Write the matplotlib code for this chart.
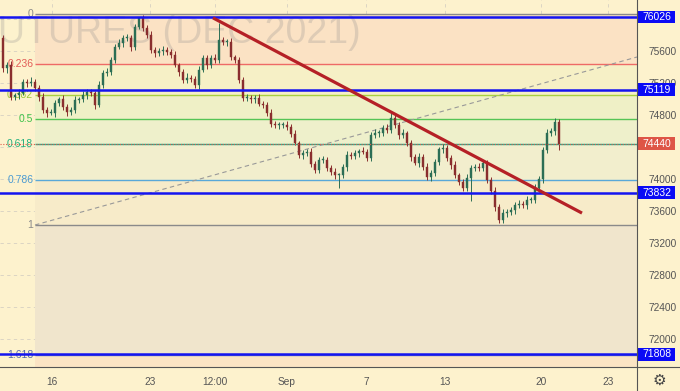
import matplotlib
matplotlib.use("Agg")
import matplotlib.pyplot as plt
import matplotlib.transforms as mtransforms
from matplotlib.patches import Rectangle
from matplotlib.lines import Line2D


# candle closes, one per bar (rub) left to right
closes = [
    75390, 75425, 75025, 75050, 75075, 75215, 75200, 75215, 75140, 75025,
    74865, 74825, 74825, 74950, 75000, 74900, 74840, 74865, 74990, 75000,
    75050, 75090, 75075, 74925, 75175, 75325, 75340, 75490, 75650, 75700,
    75765, 75765, 75650, 75900, 76015, 75890, 75800, 75615, 75575, 75600,
    75615, 75590, 75550, 75425, 75340, 75240, 75265, 75250, 75175, 75365,
    75515, 75425, 75515, 75490, 75740, 75715, 75715, 75525, 75490, 75240,
    75015, 75015, 75000, 75015, 74940, 74925, 74825, 74690, 74675, 74675,
    74675, 74650, 74565, 74450, 74300, 74325, 74340, 74190, 74115, 74240,
    74240, 74140, 74090, 74050, 74050, 74150, 74300, 74290, 74325, 74350,
    74340, 74265, 74550, 74575, 74575, 74640, 74615, 74765, 74675, 74550,
    74575, 74450, 74275, 74200, 74275, 74150, 74025, 74075, 74215, 74375,
    74390, 74265, 74175, 74050, 73965, 73890, 74015, 74140, 74150, 74140,
    74200, 73990, 73850, 73650, 73490, 73575, 73590, 73615, 73675, 73690,
    73675, 73740, 73740, 73890, 74000, 74365, 74575, 74600, 74715, 74440,
]
first_open = 75765
up_wick = [
    35, 40, 45, 30, 50, 40, 35, 55, 30, 40, 45, 35, 50, 40, 30, 45, 35, 40, 50, 30,
    45, 35, 40, 30, 55, 40, 45, 35, 40, 50, 30, 45, 40, 35, 15, 40, 35, 45, 30, 40,
    50, 35, 40, 45, 30, 40, 55, 35, 40, 45, 30, 40, 35, 50, 210, 40, 35, 45, 30, 40,
    35, 45, 40, 30, 50, 35, 40, 45, 30, 40, 35, 50, 40, 45, 30, 40, 35, 45, 40, 30,
    45, 35, 40, 50, 30, 40, 45, 35, 40, 30, 45, 40, 35, 50, 40, 30, 45, 60, 35, 40,
    45, 30, 40, 35, 50, 40, 45, 35, 40, 30, 45, 40, 35, 50, 30, 40, 45, 35, 40, 45,
    30, 40, 35, 50, 40, 45, 30, 40, 35, 45, 40, 50, 30, 45, 40, 35, 45, 40, 50, 30,
]
dn_wick = [
    50, 65, 40, 35, 45, 30, 50, 40, 35, 45, 40, 50, 30, 45, 35, 40, 50, 35, 45, 40,
    35, 45, 40, 50, 30, 40, 35, 45, 40, 30, 50, 35, 45, 40, 30, 45, 40, 35, 50, 40,
    45, 35, 40, 30, 50, 40, 45, 35, 40, 50, 30, 45, 40, 35, 45, 40, 50, 35, 40, 45,
    40, 35, 50, 45, 30, 40, 35, 45, 40, 50, 35, 40, 45, 30, 40, 50, 35, 45, 40, 35,
    40, 45, 35, 50, 160, 40, 45, 35, 40, 50, 30, 45, 40, 35, 50, 40, 35, 45, 40, 50,
    35, 40, 45, 30, 50, 40, 35, 45, 40, 35, 50, 40, 45, 35, 40, 40, 45, 295, 35, 40,
    45, 35, 40, 50, 40, 35, 45, 40, 50, 35, 40, 45, 35, 40, 50, 45, 35, 40, 45, 75,
]

fib_high = 76064
fib_low = 73426
fib_ratios = [0, 0.236, 0.382, 0.5, 0.618, 0.786, 1, 1.618]
fib_labels = ["0", "0.236", "0.382", "0.5", "0.618", "0.786", "1", "1.618"]
fib_start = 8

levels = [76026, 75119, 73832, 71808]
last_price = 74440

trend_x = [52.5, 144.75]
trend_y = [76015, 73575]
guide_x = [8, 158.5]
guide_y = [73426, 75526]

date_pos = [12.25, 36.75, 53, 71, 90.75, 110.5, 134.5, 151.25]
date_labels = ["16", "23", "12:00", "Sep", "7", "13", "20", "23"]
price_ticks = [72000, 72400, 72800, 73200, 73600, 74000, 74400, 74800, 75200, 75600, 76000]
hidden_ticks = [74400, 76000]   # covered by the price labels on the scale

BG = "#fdf2cd"
fib_line_colors = ["#8a8a8a", "#ee6a66", "#a8d040", "#55c455", "#2aa88a", "#5aa8d8", "#8a8a8a", "#6f7fb8"]
fib_text_colors = ["#8a8a8a", "#e25c56", "#9cc83a", "#3fc24a", "#22b07e", "#4a9ad2", "#8a8a8a", "#5566aa"]
zone_colors = ["#fbe2c4", "#f6f0c6", "#eff0c6", "#eef0cb", "#f2eecd", "#f7ebc9", "#f0e5cc"]
UP = "#2c6e55"
DOWN = "#8a2e2e"

plt.rcParams["font.family"] = ["Liberation Sans", "DejaVu Sans"]

fig = plt.figure(figsize=(6.8, 3.91), dpi=100, facecolor=BG)
ax = fig.add_axes([0, 24 / 391, 637 / 680, 367 / 391])
ax.set_facecolor(BG)
xmin, xmax = -0.75, 158.5
ymin, ymax = 71651, 76238.5
ax.set_xlim(xmin, xmax)
ax.set_ylim(ymin, ymax)

# fib zones and levels
span = fib_high - fib_low
fib_prices = [fib_high - r * span for r in fib_ratios]
for k in range(len(fib_prices) - 1):
    ax.fill_between([fib_start, xmax], fib_prices[k], fib_prices[k + 1],
                    color=zone_colors[k], lw=0, zorder=0.6)
ax.fill_between([fib_start, xmax], fib_prices[-1], ymin, color="#fbe4c4", lw=0, zorder=0.6)
for p, lab, lc, tc in zip(fib_prices, fib_labels, fib_line_colors, fib_text_colors):
    ax.hlines(p, fib_start, xmax, color=lc, lw=1.0, zorder=1.5)
    ax.text(fib_start - 0.45, p, lab, ha="right", va="center", fontsize=7.5,
            color=tc, zorder=1.6)

# watermark
ax.text(361 / 637, 1 - 43 / 367, "FUTURES (DEC 2021)", transform=ax.transAxes,
        ha="right", va="baseline", fontsize=27, color="#8a8a8a", alpha=0.25, zorder=1.2)

ax.grid(True, color="#d6d0c2", lw=0.6, dashes=(4, 4))
ax.set_axisbelow(True)

ax.plot(guide_x, guide_y, color="#999999", lw=0.8, dashes=(4, 3), zorder=1.7)

# candles
opens = [first_open] + closes[:-1]
for i, (o, c) in enumerate(zip(opens, closes)):
    col = UP if c >= o else DOWN
    hi = max(o, c) + up_wick[i]
    lo = min(o, c) - dn_wick[i]
    ax.vlines(i, lo, hi, color=col, lw=0.7, zorder=3)
    h = c - o if abs(c - o) > 8 else 8
    ax.bar(i, h, bottom=min(o, c) if abs(c - o) <= 8 else o, width=0.55,
           color=col, edgecolor=col, lw=0.3, zorder=3.1)

for lv in levels:
    ax.axhline(lv, color="#1414f0", lw=1.8, zorder=4)
ax.axhline(last_price, color="#e05a4a", lw=0.8, ls=(0, (1, 1.5)), zorder=4)

ax.plot(trend_x, trend_y, color="#b52026", lw=2.3, solid_capstyle="butt", zorder=5)

# axes
for s in ax.spines.values():
    s.set_visible(False)
ax.yaxis.tick_right()
ax.set_yticks(price_ticks)
ax.set_yticklabels(["" if t in hidden_ticks else str(t) for t in price_ticks])
ax.set_xticks(date_pos)
ax.set_xticklabels(date_labels)
ax.tick_params(axis="y", length=0, pad=8, labelsize=7.3, labelcolor="#555555")
ax.tick_params(axis="x", length=0, pad=7, labelsize=7.3, labelcolor="#555555")

# price labels on the scale
blend = mtransforms.blended_transform_factory(ax.transAxes, ax.transData)
for lv, fc in [(levels[0], "#0b0bf5"), (levels[1], "#0b0bf5"), (levels[2], "#0b0bf5"),
               (levels[3], "#0b0bf5"), (last_price, "#de5546")]:
    ax.add_patch(Rectangle((1.002, lv - 80), 0.058, 160, transform=blend,
                           facecolor=fc, edgecolor="none", clip_on=False, zorder=6))
    ax.text(1.031, lv, str(lv), transform=blend, ha="center", va="center",
            fontsize=7.5, color="white", clip_on=False, zorder=7)

fig.add_artist(Line2D([0, 1], [24 / 391, 24 / 391], color="#555555", lw=0.8))
fig.add_artist(Line2D([637 / 680, 637 / 680], [0, 1], color="#555555", lw=0.8))
fig.text(659 / 680, 11 / 391, "\u2699", ha="center", va="center", fontsize=11,
         color="#444444", family="DejaVu Sans")

fig.savefig("out.png", dpi=100, facecolor=BG)
